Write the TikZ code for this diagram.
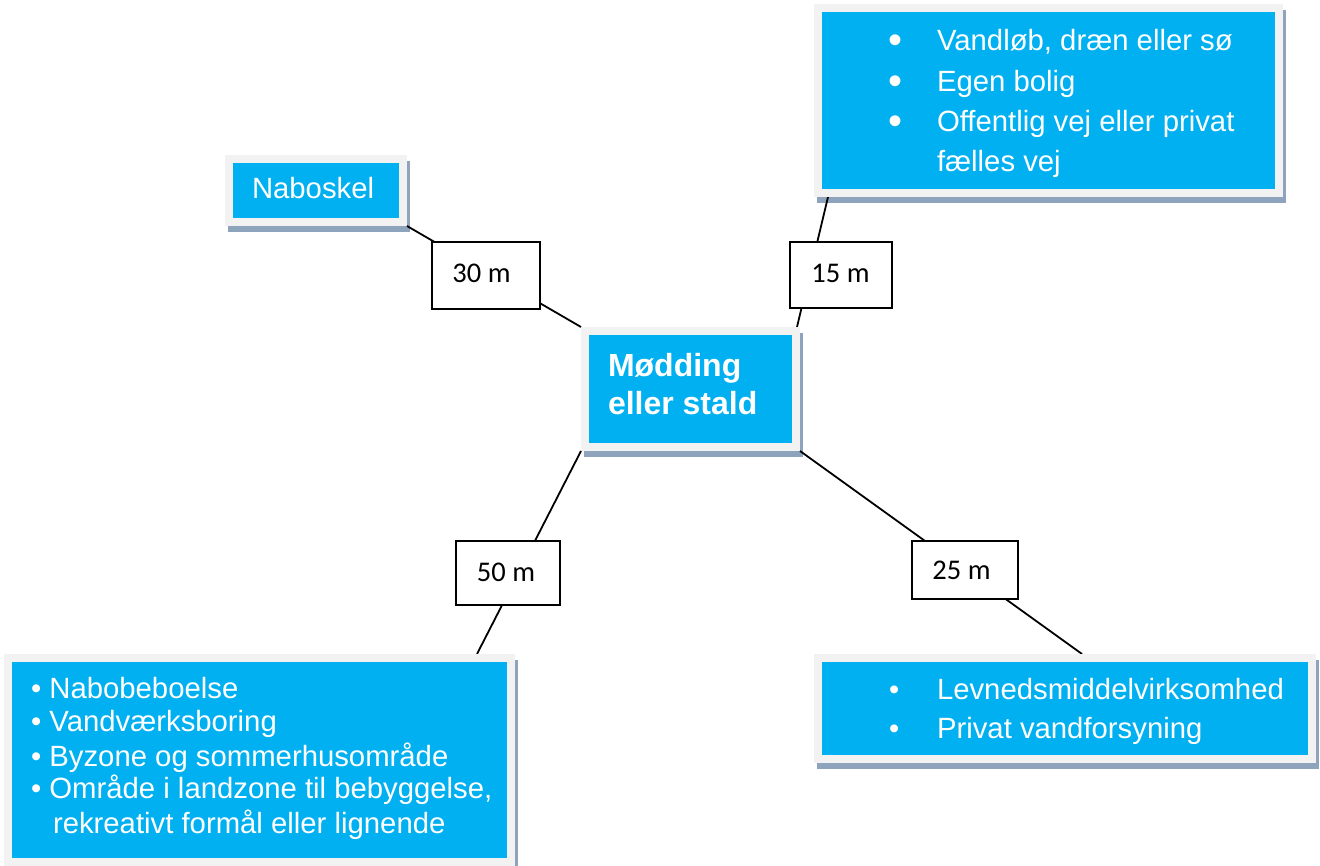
\documentclass[tikz,border=0pt]{standalone}
\usepackage{fontspec}
\setmainfont{Liberation Sans}
\newfontfamily\calfont{Carlito}
\usetikzlibrary{calc}
\pgfdeclarelayer{bg}
\pgfsetlayers{bg,main}
\definecolor{cyanbox}{HTML}{00B0F0}
\definecolor{framec}{HTML}{F2F2F2}
\definecolor{shadowc}{HTML}{8EA4BC}
\newcommand\labtext[3]{\raisebox{#2pt}{#1}\hspace*{#3pt}}
\tikzset{
  cbox/.style={rectangle, fill=cyanbox, draw=framec, line width=8pt, inner sep=0pt, outer sep=4pt},
  lbox/.style={rectangle, fill=white, draw=black, line width=1.7pt, inner sep=0pt, outer sep=0pt,
    font=\calfont\fontsize{28.5}{34}\selectfont},
  txt/.style={anchor=base west, inner sep=0pt, outer sep=0pt, text=white, font=\fontsize{29.3}{35}\selectfont},
  boldtxt/.style={txt, font=\bfseries\fontsize{32}{38}\selectfont},
  bigbullet/.style={anchor=base west, inner sep=0pt, outer sep=0pt, text=white, font=\fontsize{40}{40}\selectfont},
  smallbullet/.style={anchor=base west, inner sep=0pt, outer sep=0pt, text=white, font=\fontsize{29}{35}\selectfont},
  conn/.style={draw=black, line width=1.8pt},
  shadowfill/.style={fill=shadowc},
}
\begin{document}
\begin{tikzpicture}[x=1pt,y=-1pt]
\useasboundingbox (0,0) rectangle (1320,866);

% main boxes
\node[cbox, minimum width=461pt, minimum height=185pt] (tr) at (1048.5,100.5) {};
\node[cbox, minimum width=174pt, minimum height=63pt] (nabo) at (316,190.5) {};
\node[cbox, minimum width=211pt, minimum height=116pt] (center) at (690.5,389) {};
\node[cbox, minimum width=503pt, minimum height=204pt] (bl) at (259.5,760) {};
\node[cbox, minimum width=494pt, minimum height=101pt] (br) at (1065,708.5) {};

% shadows and connectors behind
\begin{pgfonlayer}{bg}
  \foreach \b in {tr,nabo,center,bl,br}{
    \fill[shadowfill] ($(\b.north west)+(3,6)$) rectangle ($(\b.south east)+(3,6)$);
  }
  \draw[conn] (nabo.south east) -- (center.north west);
  \draw[conn] ($(tr.south west)+(14,0)$) -- ($(center.north east)+(-3,0)$);
  \draw[conn] (center.south west) -- ($(bl.north east)+(-38,0)$);
  \draw[conn] (center.south east) -- ($(br.north west)+(268,0)$);
\end{pgfonlayer}

% distance labels
\node[lbox, minimum width=108pt, minimum height=67pt] (l30) at (486,275.5) {\labtext{30 m}{4}{9}};
\node[lbox, minimum width=102pt, minimum height=66pt] (l15) at (841,275) {\labtext{15 m}{4}{1}};
\node[lbox, minimum width=104pt, minimum height=64pt] (l50) at (508,573) {\labtext{50 m}{2}{4}};
\node[lbox, minimum width=106pt, minimum height=58pt] (l25) at (965,570) {\labtext{25 m}{0}{7}};

% texts
\node[txt] (tnabo) at (252,198.3) {Naboskel};

\node[boldtxt] (tc1) at (608,377) {Mødding};
\node[boldtxt] (tc2) at (608,414) {eller stald};

\node[bigbullet] (btr1) at (888,54) {•};
\node[bigbullet] (btr2) at (888,95) {•};
\node[bigbullet] (btr3) at (888,135) {•};
\node[txt] (ttr1) at (937,50.7) {Vandløb, dræn eller sø};
\node[txt] (ttr2) at (937,91.7) {Egen bolig};
\node[txt] (ttr3) at (937,131.7) {Offentlig vej eller privat};
\node[txt] (ttr4) at (937,171.7) {fælles vej};

\node[smallbullet] (bbr1) at (889,699) {•};
\node[smallbullet] (bbr2) at (889,738) {•};
\node[txt] (tbr1) at (937,699) {Levnedsmiddelvirksomhed};
\node[txt] (tbr2) at (937,738) {Privat vandforsyning};

\node[txt] (tbl1) at (31,698.3) {• Nabobeboelse};
\node[txt] (tbl2) at (31,731.9) {• Vandværksboring};
\node[txt] (tbl3) at (31,766) {• Byzone og sommerhusområde};
\node[txt] (tbl4) at (31,798.3) {• Område i landzone til bebyggelse,};
\node[txt] (tbl5) at (53,833.3) {rekreativt formål eller lignende};
\end{tikzpicture}
\end{document}
